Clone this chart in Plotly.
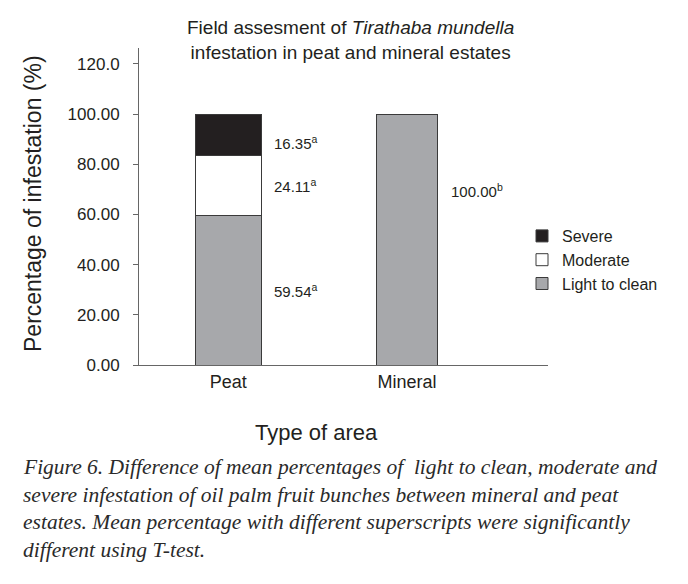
import plotly.graph_objects as go

# ---- data ----
areas = ["Peat", "Mineral"]
light_to_clean = [59.54, 100.00]
moderate = [24.11, None]
severe = [16.35, None]
light_labels = ["59.54<sup>a</sup>", "100.00<sup>b</sup>"]
moderate_labels = ["24.11<sup>a</sup>", None]
severe_labels = ["16.35<sup>a</sup>", None]
y_tick_values = [0, 20, 40, 60, 80, 100, 120]
y_tick_text = ["0.00", "20.00", "40.00", "60.00", "80.00", "100.00", "120.0"]

caption_lines = [
    "Figure 6. Difference of mean percentages of  light to clean, moderate and",
    "severe infestation of oil palm fruit bunches between mineral and peat",
    "estates. Mean percentage with different superscripts were significantly",
    "different using T-test.",
]

# ---- layout geometry (pixels) ----
W, H = 688, 584
L, R, T, B = 139, 140, 48, 219
PW, PH = W - L - R, H - T - B


def px_x(px):
    return (px - L) / PW


def px_y(py):
    return (H - B - py) / PH


FONT = "Liberation Sans, Arial, sans-serif"
INK = "#231f20"
x_pos = list(range(len(areas)))
bar_widths = [0.37, 0.34]

fig = go.Figure()
series = [
    ("Light to clean", light_to_clean, "#a7a8ab"),
    ("Moderate", moderate, "#ffffff"),
    ("Severe", severe, INK),
]
for name, vals, col in series:
    fig.add_trace(go.Bar(
        x=x_pos, y=vals, name=name, width=bar_widths,
        marker=dict(color=col, line=dict(color="#3a3a3a", width=1)),
        hoverinfo="skip",
    ))

# value labels at the middle of each segment
label_xshift = [44, 42]
label_yshift = {"light": [0, 49], "mod": [0, 0], "sev": [-8, 0]}
annotations = []
for i in range(len(areas)):
    base = 0.0
    for key, vals, labs in [("light", light_to_clean, light_labels),
                            ("mod", moderate, moderate_labels),
                            ("sev", severe, severe_labels)]:
        v = vals[i]
        if v is None:
            continue
        mid = base + v / 2
        base += v
        if labs[i]:
            annotations.append(dict(
                x=x_pos[i], y=mid, xref="x", yref="y", text=labs[i],
                showarrow=False, xanchor="left", yanchor="middle",
                xshift=label_xshift[i], yshift=label_yshift[key][i],
                font=dict(family=FONT, size=15, color=INK)))

# title
annotations.append(dict(
    x=px_x(350), y=px_y(40), xref="paper", yref="paper",
    text="Field assesment of <i>Tirathaba mundella</i><br>infestation in peat and mineral estates",
    showarrow=False, xanchor="center", yanchor="middle", align="center",
    font=dict(family=FONT, size=19, color=INK)))
# y axis title
annotations.append(dict(
    x=px_x(33), y=px_y(204), xref="paper", yref="paper",
    text="Percentage of infestation (%)", textangle=-90,
    showarrow=False, xanchor="center", yanchor="middle",
    font=dict(family=FONT, size=23, color=INK)))
# x axis title
annotations.append(dict(
    x=px_x(316), y=px_y(432), xref="paper", yref="paper",
    text="Type of area", showarrow=False, xanchor="center", yanchor="middle",
    font=dict(family=FONT, size=22, color=INK)))
# caption
cap_y = [467, 495, 522, 550]
for line, yy in zip(caption_lines, cap_y):
    annotations.append(dict(
        x=px_x(21), y=px_y(yy), xref="paper", yref="paper",
        text="<i>" + line + "</i>", showarrow=False,
        xanchor="left", yanchor="middle",
        font=dict(family="Liberation Serif, serif", size=21.5, color="#2a2a2a")))

fig.update_layout(
    width=W, height=H,
    margin=dict(l=L, r=R, t=T, b=B, pad=0),
    barmode="stack",
    paper_bgcolor="white", plot_bgcolor="white",
    showlegend=True,
    legend=dict(
        x=px_x(522), y=px_y(219), xanchor="left", yanchor="top",
        traceorder="reversed", bgcolor="rgba(0,0,0,0)",
        font=dict(family=FONT, size=16, color=INK),
        itemwidth=30, tracegroupgap=0),
    xaxis=dict(
        tickmode="array", tickvals=x_pos, ticktext=areas,
        range=[-0.5, 1.79], showline=True, linecolor="#666666", linewidth=1,
        ticks="", showgrid=False, zeroline=False,
        tickfont=dict(family=FONT, size=18, color=INK)),
    yaxis=dict(
        range=[0, 126.3], tickmode="array", tickvals=y_tick_values,
        ticktext=y_tick_text, showline=True, linecolor="#666666", linewidth=1,
        ticks="outside", ticklen=5, tickcolor="#666666",
        showgrid=False, zeroline=False, ticklabelstandoff=10,
        tickfont=dict(family=FONT, size=17, color=INK)),
    annotations=annotations,
)

fig.write_html("out.html")
